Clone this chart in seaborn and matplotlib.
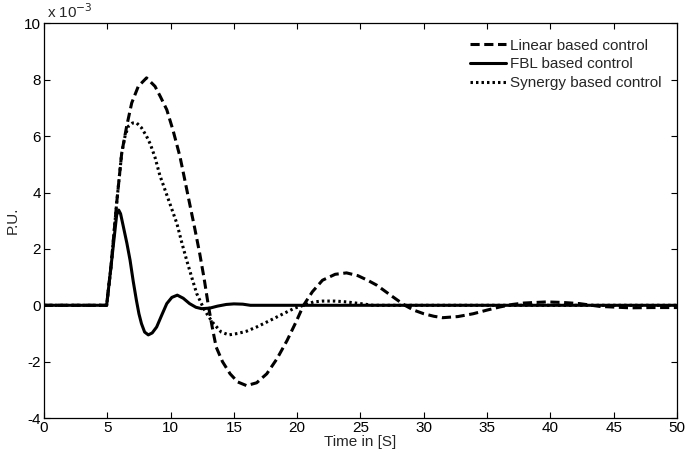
import pandas as pd
import matplotlib
matplotlib.use("Agg")
import matplotlib.pyplot as plt
import seaborn as sns

# values in P.U. x 10^-3
t_linear = [0, 4.95, 5.3, 5.74, 6.14, 6.53, 6.93, 7.45, 8.1, 8.77, 9.2, 9.7, 10.2, 10.74,
            11.1, 11.5, 11.9, 12.3, 12.65, 12.98, 13.3, 13.6, 14.1, 14.7, 15.3, 16.0, 16.8,
            17.6, 18.4, 19.2, 19.9, 20.5, 21.2, 22.0, 23.0, 23.9, 24.8, 25.6, 26.3, 27.4,
            28.5, 29.2, 30.0, 30.8, 31.5, 32.7, 33.9, 35.0, 36.0, 37.0, 37.9, 39.7, 41.0,
            42.3, 43.9, 46.3, 48.0, 50]
v_linear = [0, 0, 1.4, 3.62, 5.4, 6.35, 7.18, 7.77, 8.07, 7.77, 7.4, 6.94, 6.2, 5.28,
            4.5, 3.62, 2.75, 1.84, 0.95, 0.0, -0.8, -1.48, -2.0, -2.43, -2.72, -2.85, -2.75,
            -2.43, -1.9, -1.25, -0.6, 0.0, 0.48, 0.89, 1.1, 1.15, 1.05, 0.88, 0.71, 0.35,
            0.0, -0.17, -0.3, -0.39, -0.44, -0.4, -0.3, -0.17, -0.06, 0.03, 0.08, 0.12, 0.1,
            0.06, -0.04, -0.09, -0.08, -0.08]

t_fbl = [0, 4.95, 5.3, 5.74, 5.9, 6.05, 6.27, 6.55, 6.8, 7.05, 7.3, 7.5, 7.7, 7.95, 8.24,
         8.55, 8.9, 9.3, 9.7, 10.1, 10.53, 11.0, 11.5, 12.0, 12.45, 13.1, 13.7, 14.4, 15.0,
         15.7, 16.3, 50]
v_fbl = [0, 0, 1.4, 3.2, 3.38, 3.25, 2.79, 2.2, 1.6, 0.85, 0.18, -0.3, -0.65, -0.95, -1.05,
         -0.98, -0.77, -0.35, 0.06, 0.28, 0.36, 0.25, 0.06, -0.07, -0.12, -0.1, -0.03, 0.03,
         0.05, 0.04, 0.0, 0.0]

t_synergy = [0, 4.95, 5.3, 5.74, 6.14, 6.4, 6.66, 7.0, 7.32, 7.7, 8.1, 8.4, 8.77, 9.16,
             9.4, 9.95, 10.5, 10.9, 11.27, 11.7, 12.06, 12.6, 13.0, 13.4, 14.0, 14.6, 15.3,
             16.0, 16.8, 17.8, 18.9, 19.8, 20.5, 21.3, 22.0, 23.0, 23.9, 25.0, 26.0, 50]
v_synergy = [0, 0, 1.4, 3.62, 5.4, 6.0, 6.35, 6.47, 6.47, 6.3, 6.0, 5.72, 5.25, 4.6,
             4.3, 3.6, 2.9, 2.2, 1.6, 0.95, 0.42, -0.1, -0.4, -0.65, -0.95, -1.05, -1.0,
             -0.92, -0.77, -0.55, -0.3, -0.1, 0.0, 0.12, 0.15, 0.15, 0.12, 0.06, 0.0, 0.0]

x_ticks = list(range(0, 51, 5))
y_ticks = list(range(-4, 11, 2))

sns.set_theme(style="ticks")
plt.rcParams['font.family'] = ['Liberation Sans', 'DejaVu Sans']
plt.rcParams['axes.unicode_minus'] = False

fs = 11
fig = plt.figure(figsize=(6.85, 4.58), dpi=100)
ax = fig.add_axes([0.0642, 0.0873, 0.9241, 0.8614])

lw = 2.2
sns.lineplot(x=t_linear, y=v_linear, ax=ax, color="black", lw=lw,
             label="Linear based control", dashes=False)
sns.lineplot(x=t_fbl, y=v_fbl, ax=ax, color="black", lw=lw,
             label="FBL based control", dashes=False)
sns.lineplot(x=t_synergy, y=v_synergy, ax=ax, color="black", lw=lw,
             label="Synergy based control", dashes=False)
ax.lines[0].set_dashes((3, 1.5))
ax.lines[2].set_dashes((0.8, 1.0))

ax.set_xlim(0, 50)
ax.set_ylim(-4, 10)
ax.set_xticks(x_ticks)
ax.set_yticks(y_ticks)
ax.tick_params(direction="in", length=4, width=0.8, top=True, right=True,
               labelsize=fs, colors="black", pad=2)
for s in ax.spines.values():
    s.set_visible(True)
    s.set_linewidth(0.9)
    s.set_color("black")

ax.set_xlabel("Time in [S]", fontsize=fs, labelpad=0)
ax.set_ylabel("P.U.", fontsize=fs, labelpad=3)
ax.text(0.004, 1.006, r"x 10$^{-3}$", transform=ax.transAxes, fontsize=fs,
        ha="left", va="bottom")

leg = ax.legend(loc="upper right", frameon=False, fontsize=fs, handlelength=2.4,
                handletextpad=0.25, labelspacing=0.3, borderaxespad=0.8,
                borderpad=0.2)
leg.get_lines()[0].set_dashes((3, 1.5))
leg.get_lines()[2].set_dashes((0.8, 1.0))

fig.savefig("out.png", dpi=100)
